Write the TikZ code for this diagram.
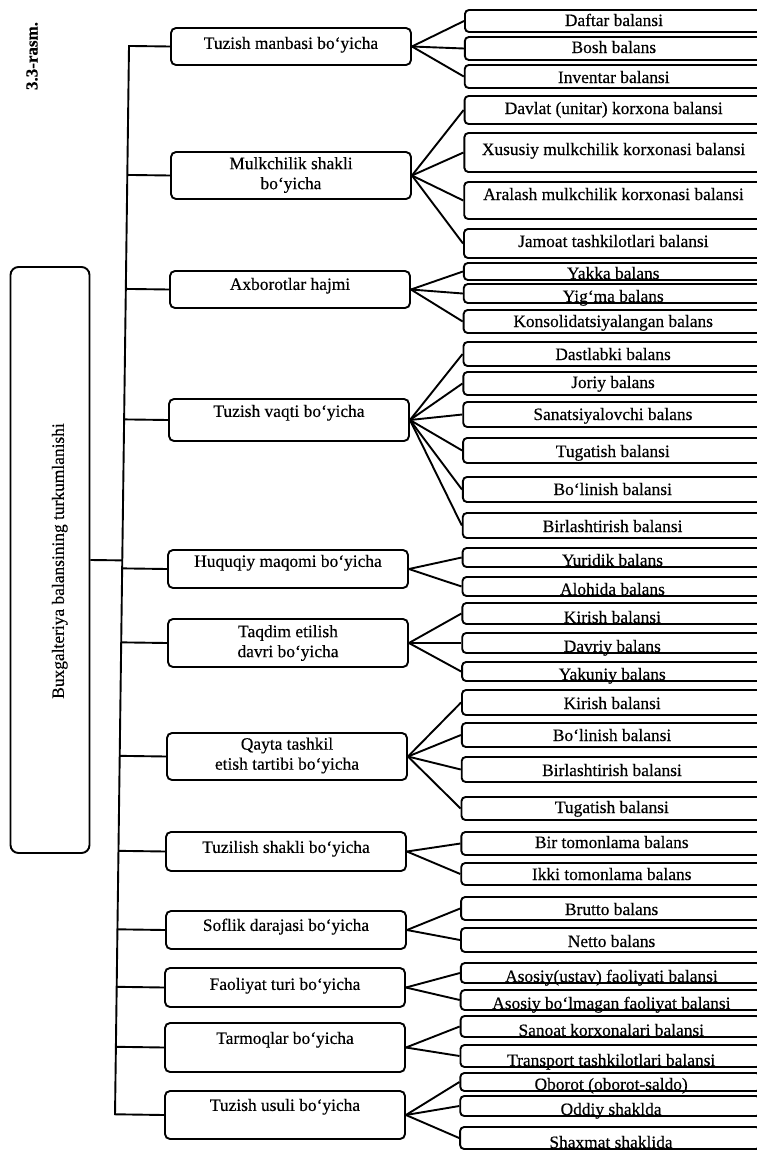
\documentclass[tikz,border=0pt]{standalone}
\usepackage{fontspec}
\setmainfont{Liberation Serif}[FakeBold=0.4]
\usetikzlibrary{calc}
\newcommand\fsz{\fontsize{17.4bp}{20bp}\selectfont}
\begin{document}
\begin{tikzpicture}[x=1bp,y=-1bp,
  mid/.style={draw, line width=1.9bp, rounded corners=5bp, minimum width=240bp, inner sep=0pt},
  rbox/.style={draw, line width=1.9bp, rounded corners=4bp, minimum width=300bp, inner sep=0pt},
  lbl/.style={font=\fsz, inner sep=0pt, text height=12bp, text depth=4.2bp, yshift=-3bp},
  rlbl/.style={font=\fsz, inner sep=0pt, anchor=base},
  lbltwo/.style={font=\fsz, inner sep=0pt, align=center},
  conn/.style={line width=1.9bp, line join=miter}]
\useasboundingbox (0,0) rectangle (757,1155);
\clip (0,0) rectangle (757,1155);

% figure title
\node[font=\fontsize{17bp}{20bp}\selectfont\bfseries, rotate=90, inner sep=0pt] (title) at (32,56) {3.3-rasm.};

% main box
\node[draw, line width=1.9bp, rounded corners=8bp, minimum width=79bp, minimum height=586bp, inner sep=0pt] (main) at (50,560) {};
\node[font=\fsz, inner sep=0pt, text height=12bp, text depth=4.2bp, rotate=90] (maint) at (60,561) {Buxgalteriya balansining turkumlanishi};

% middle boxes
\node[mid, minimum height=37bp] (m1) at (291,46.5) {};
\node[lbl] (t1) at (291,42) {Tuzish manbasi bo‘yicha};
\node[mid, minimum height=47bp] (m2) at (291,175.5) {};
\node[lbltwo] (t2) at (291,175) {Mulkchilik shakli\\bo‘yicha};
\node[mid, minimum height=37bp] (m3) at (290,289.5) {};
\node[lbl] (t3) at (290,283) {Axborotlar hajmi};
\node[mid, minimum height=42bp] (m4) at (289,420) {};
\node[lbl] (t4) at (289,410) {Tuzish vaqti bo‘yicha};
\node[mid, minimum height=38bp] (m5) at (288,569) {};
\node[lbl] (t5) at (288,560) {Huquqiy maqomi bo‘yicha};
\node[mid, minimum height=48bp] (m6) at (288,643) {};
\node[lbltwo] (t6) at (288,643) {Taqdim etilish\\davri bo‘yicha};
\node[mid, minimum height=47bp] (m7) at (287,756.5) {};
\node[lbltwo] (t7) at (287,755.5) {Qayta tashkil\\etish tartibi bo‘yicha};
\node[mid, minimum height=39bp] (m8) at (286,851.5) {};
\node[lbl] (t8) at (286,846) {Tuzilish shakli bo‘yicha};
\node[mid, minimum height=38bp] (m9) at (286,930) {};
\node[lbl] (t9) at (286,924) {Soflik darajasi bo‘yicha};
\node[mid, minimum height=39bp] (m10) at (285,987.5) {};
\node[lbl] (t10) at (285,983) {Faoliyat turi bo‘yicha};
\node[mid, minimum height=49bp] (m11) at (285,1047.5) {};
\node[lbl] (t11) at (285,1037) {Tarmoqlar bo‘yicha};
\node[mid, minimum height=48bp] (m12) at (285,1115) {};
\node[lbl] (t12) at (285,1104) {Tuzish usuli bo‘yicha};

% right boxes: number / top / bottom / text baseline / text
\foreach \nn/\ta/\tb/\ty/\lab in {
  1/10/32/26/{Daftar balansi},
  2/37/60/53/{Bosh balans},
  3/65/88/83/{Inventar balansi},
  4/96/124/114/{Davlat (unitar) korxona balansi},
  5/133/172/155/{Xususiy mulkchilik korxonasi balansi},
  6/182/219/200/{Aralash mulkchilik korxonasi balansi},
  7/229/258/247/{Jamoat tashkilotlari balansi},
  8/263/280/279/{Yakka balans},
  9/284/303/302/{Yig‘ma balans},
  10/310/333/327/{Konsolidatsiyalangan balans},
  11/342/366/360/{Dastlabki balans},
  12/372/395/388/{Joriy balans},
  13/402/427/420/{Sanatsiyalovchi balans},
  14/438/463/457/{Tugatish balansi},
  15/477/502/495/{Bo‘linish balansi},
  16/513/538/532/{Birlashtirish balansi},
  17/548/567/566/{Yuridik balans},
  18/577/596/595/{Alohida balans},
  19/603/624/623/{Kirish balansi},
  20/633/653/652/{Davriy balans},
  21/662/681/680/{Yakuniy balans},
  22/690/715/709/{Kirish balansi},
  23/723/747/741/{Bo‘linish balansi},
  24/757/782/776/{Birlashtirish balansi},
  25/797/820/813/{Tugatish balansi},
  26/832/855/848/{Bir tomonlama balans},
  27/863/885/880/{Ikki tomonlama balans},
  28/897/920/915/{Brutto balans},
  29/928/952/947/{Netto balans},
  30/963/983/982/{Asosiy(ustav) faoliyati balansi},
  31/990/1010/1009/{Asosiy bo‘lmagan faoliyat balansi},
  32/1016/1037/1036/{Sanoat korxonalari balansi},
  33/1045/1067/1066/{Transport tashkilotlari balansi},
  34/1073/1091/1090/{Oborot (oborot-saldo)},
  35/1096/1116/1115/{Oddiy shaklda},
  36/1127/1149/1148/{Shaxmat shaklida}} {
  \node[rbox, minimum height={(\tb-\ta)*1bp}] (r\nn) at ({615-5*\ta/1150},{(\ta+\tb)/2}) {};
  \node[rlbl] (rt\nn) at ({614-3*\ty/1150},\ty) {\lab};
}

% trunk and its branches
\coordinate (ttop) at (129,46.5);
\coordinate (tbot) at (115,1115);
\draw[conn] (m1.west) -- ($(ttop)!(m1.west)!(tbot)$) -- ($(ttop)!(m12.west)!(tbot)$) -- (m12.west);
\foreach \mm in {2,...,11} \draw[conn] (m\mm.west) -- ($(ttop)!(m\mm.west)!(tbot)$);
\draw[conn] (main.east) -- ($(ttop)!(main.east)!(tbot)$);

% fan-out connectors
\foreach \mm/\lst in {1/{1,2,3}, 2/{4,5,6,7}, 3/{8,9,10}, 4/{11,12,13,14,15,16},
  5/{17,18}, 6/{19,20,21}, 7/{22,23,24,25}, 8/{26,27}, 9/{28,29},
  10/{30,31}, 11/{32,33}, 12/{34,35,36}} {
  \foreach \rr in \lst { \draw[conn] (m\mm.east) -- (r\rr.west); }
}
\end{tikzpicture}
\end{document}
